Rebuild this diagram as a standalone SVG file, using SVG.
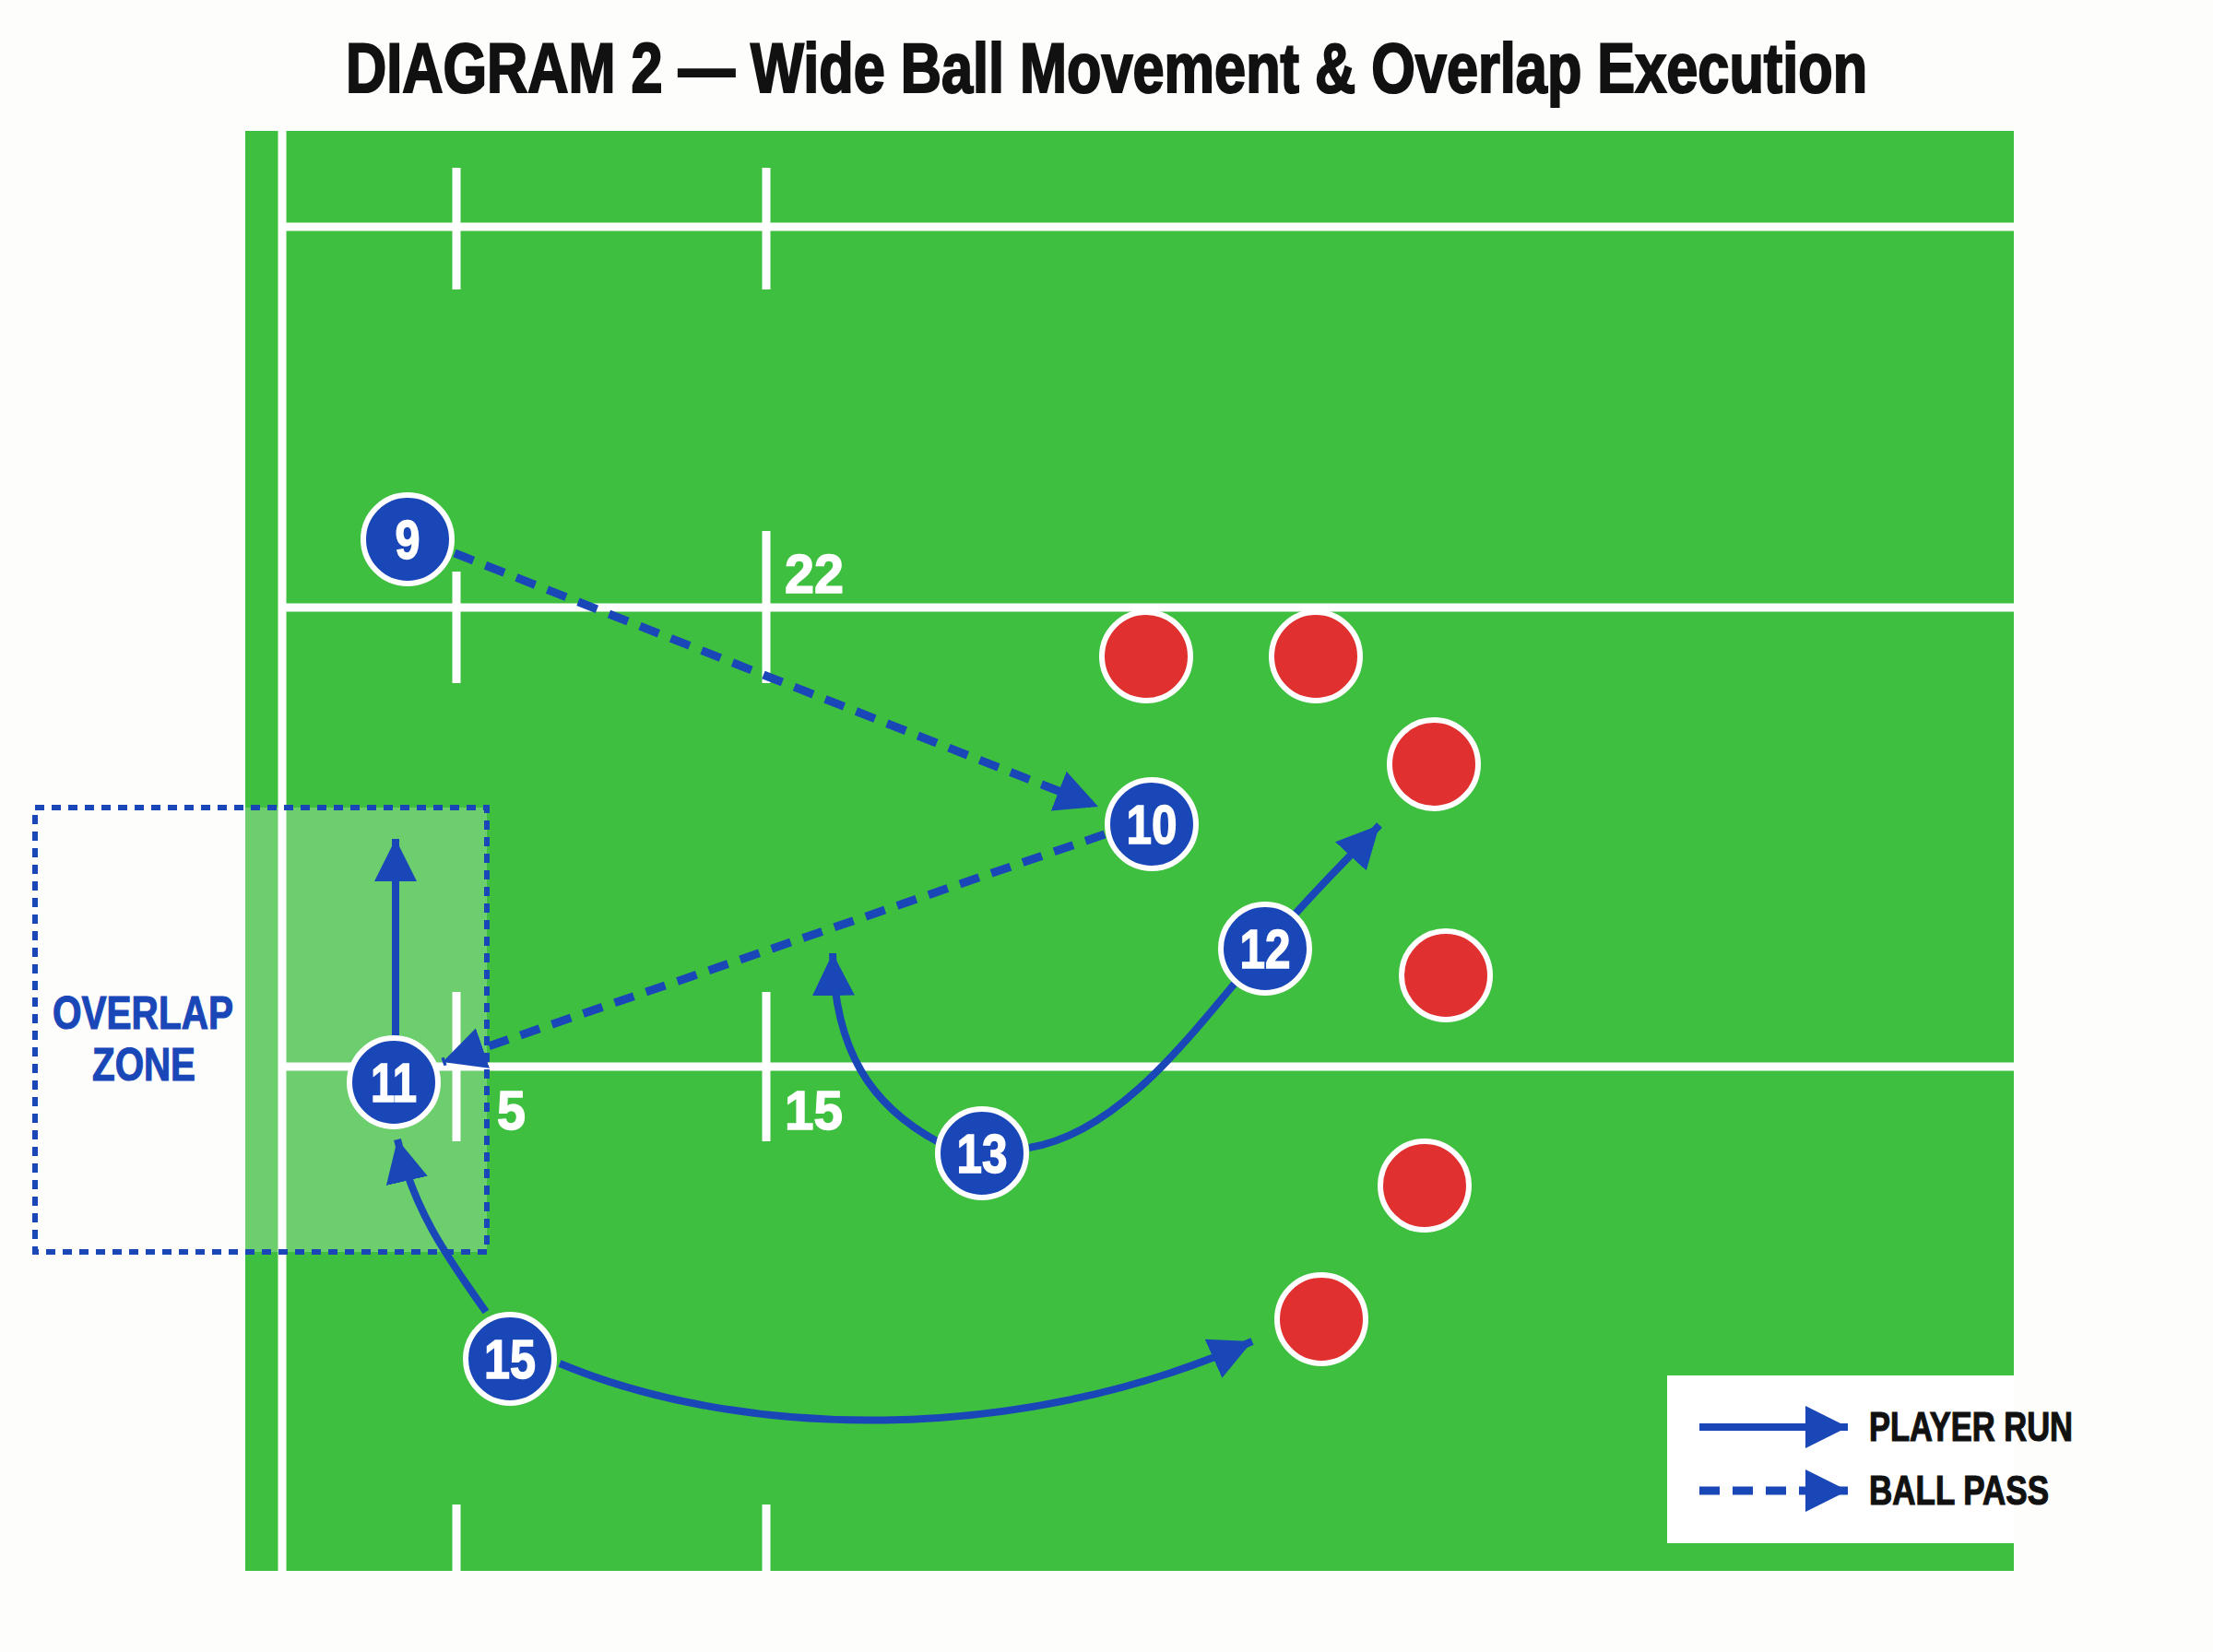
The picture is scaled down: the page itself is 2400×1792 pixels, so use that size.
<svg xmlns="http://www.w3.org/2000/svg" width="2400" height="1792" viewBox="0 0 2400 1792">
<style>
  .title{font-family:"Liberation Sans",Arial,sans-serif;font-weight:bold;font-size:76px;fill:#111;stroke:#111;stroke-width:2.2}
  .fline{stroke:#ffffff;stroke-width:9;fill:none}
  .flabel{font-family:"Liberation Sans",Arial,sans-serif;font-weight:bold;font-size:60px;fill:#ffffff;stroke:#ffffff;stroke-width:1.5}
  .player circle{fill:#1a47b8;stroke:#ffffff;stroke-width:6}
  .player text{font-family:"Liberation Sans",Arial,sans-serif;font-weight:bold;font-size:60px;fill:#ffffff;stroke:#ffffff;stroke-width:1.5;text-anchor:middle}
  .opp circle{fill:#e0302f;stroke:#ffffff;stroke-width:6}
  .run{stroke:#1a47b8;stroke-width:8;fill:none;marker-end:url(#ah)}
  .pass{stroke:#1a47b8;stroke-width:9;fill:none;stroke-dasharray:22 14;marker-end:url(#ah)}
  .zone{font-family:"Liberation Sans",Arial,sans-serif;font-weight:bold;font-size:50px;fill:#1a47b8;stroke:#1a47b8;stroke-width:1.2;text-anchor:middle}
  .legtext{font-family:"Liberation Sans",Arial,sans-serif;font-weight:bold;font-size:44px;fill:#111;stroke:#111;stroke-width:1.2}
</style>
<defs>
  <marker id="ah" markerUnits="userSpaceOnUse" markerWidth="48" markerHeight="46" refX="46" refY="23" orient="auto">
    <path d="M0,0 L46,23 L0,46 Z" fill="#1a47b8"/>
  </marker>
</defs>
<rect width="2400" height="1792" fill="#fdfdfb"/>
<text class="title" transform="translate(1200,100) scale(0.806,1)" x="0" y="0" text-anchor="middle">DIAGRAM 2 — Wide Ball Movement &amp; Overlap Execution</text>

<g id="field">
  <rect x="266" y="142" width="1918" height="1562" fill="#3fbf40"/>
  <line class="fline" x1="306" y1="142" x2="306" y2="1704"/>
  <line class="fline" x1="306" y1="246" x2="2184" y2="246"/>
  <line class="fline" x1="306" y1="659" x2="2184" y2="659"/>
  <line class="fline" x1="306" y1="1157" x2="2184" y2="1157"/>
  <line class="fline" x1="495" y1="182" x2="495" y2="314"/>
  <line class="fline" x1="831" y1="182" x2="831" y2="314"/>
  <line class="fline" x1="495" y1="620" x2="495" y2="741"/>
  <line class="fline" x1="831" y1="576" x2="831" y2="741"/>
  <line class="fline" x1="495" y1="1076" x2="495" y2="1238"/>
  <line class="fline" x1="831" y1="1076" x2="831" y2="1238"/>
  <line class="fline" x1="495" y1="1632" x2="495" y2="1704"/>
  <line class="fline" x1="831" y1="1632" x2="831" y2="1704"/>
  <text class="flabel" x="851" y="643" textLength="64" lengthAdjust="spacingAndGlyphs">22</text>
  <text class="flabel" x="539" y="1225" textLength="31" lengthAdjust="spacingAndGlyphs">5</text>
  <text class="flabel" x="851" y="1225" textLength="63" lengthAdjust="spacingAndGlyphs">15</text>
</g>

<g id="overlap-zone">
  <rect x="38" y="876" width="490" height="482" fill="#ffffff" fill-opacity="0.24" stroke="#1a47b8" stroke-width="6" stroke-dasharray="10 8"/>
  <text class="zone" x="155" y="1116" textLength="196" lengthAdjust="spacingAndGlyphs">OVERLAP</text>
  <text class="zone" x="156" y="1172" textLength="112" lengthAdjust="spacingAndGlyphs">ZONE</text>
</g>

<g id="connectors">
  <path class="pass" d="M493,600 L1191,875"/>
  <path class="pass" d="M1198,905 L480,1152"/>
  <path class="run" d="M429,1124 L429,910"/>
  <path class="run" d="M527,1423 C482,1360 448,1310 431,1236"/>
  <path class="run" d="M607,1479 C800,1560 1100,1570 1358,1455"/>
  <path class="run" d="M1116,1245 C1220,1228 1300,1110 1371,1029 S1460,934 1496,895"/>
  <path class="run" d="M1018,1239 C945,1200 905,1140 903,1034"/>
</g>

<g id="opponents" class="opp">
  <circle cx="1243" cy="712" r="48"/>
  <circle cx="1427" cy="712" r="48"/>
  <circle cx="1555" cy="829" r="48"/>
  <circle cx="1568" cy="1058" r="48"/>
  <circle cx="1545" cy="1286" r="48"/>
  <circle cx="1433" cy="1431" r="48"/>
</g>

<g id="p9" class="player"><circle cx="442" cy="585" r="48"/><text x="442" y="606" textLength="27" lengthAdjust="spacingAndGlyphs">9</text></g>
<g id="p10" class="player"><circle cx="1249" cy="894" r="48"/><text x="1249" y="915" textLength="55" lengthAdjust="spacingAndGlyphs">10</text></g>
<g id="p11" class="player"><circle cx="427" cy="1174" r="48"/><text x="427" y="1195" textLength="50" lengthAdjust="spacingAndGlyphs">11</text></g>
<g id="p12" class="player"><circle cx="1372" cy="1029" r="48"/><text x="1372" y="1050" textLength="55" lengthAdjust="spacingAndGlyphs">12</text></g>
<g id="p13" class="player"><circle cx="1065" cy="1251" r="48"/><text x="1065" y="1272" textLength="55" lengthAdjust="spacingAndGlyphs">13</text></g>
<g id="p15" class="player"><circle cx="553" cy="1474" r="48"/><text x="553" y="1495" textLength="56" lengthAdjust="spacingAndGlyphs">15</text></g>

<g id="legend">
  <rect x="1808" y="1492" width="376" height="182" fill="#ffffff"/>
  <path class="run" d="M1843,1548 L2004,1548" stroke-width="10"/>
  <path class="pass" d="M1843,1617 L2004,1617" stroke-dasharray="22 15"/>
  <text class="legtext" x="2027" y="1563" textLength="221" lengthAdjust="spacingAndGlyphs">PLAYER RUN</text>
  <text class="legtext" x="2027" y="1632" textLength="195" lengthAdjust="spacingAndGlyphs">BALL PASS</text>
</g>
</svg>
